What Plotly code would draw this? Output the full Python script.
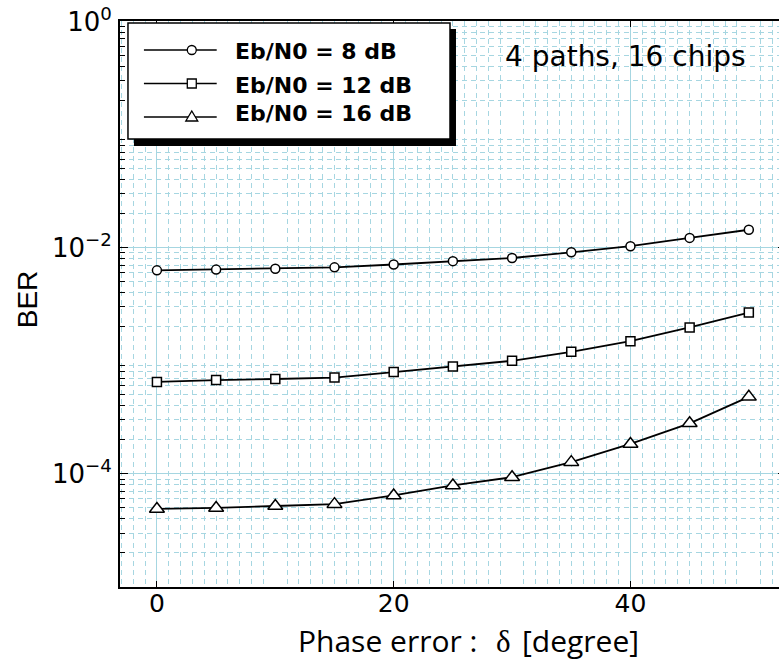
import plotly.graph_objects as go

# ---------------- data ----------------
phase_deg = [0, 5, 10, 15, 20, 25, 30, 35, 40, 45, 50]
ber_8db = [6.3e-3, 6.4e-3, 6.5e-3, 6.7e-3, 7.1e-3, 7.6e-3, 8.1e-3, 9.1e-3, 1.03e-2, 1.22e-2, 1.44e-2]
ber_12db = [6.5e-4, 6.75e-4, 6.9e-4, 7.1e-4, 7.95e-4, 8.9e-4, 1.0e-3, 1.2e-3, 1.49e-3, 1.97e-3, 2.67e-3]
ber_16db = [4.9e-5, 5.0e-5, 5.2e-5, 5.4e-5, 6.45e-5, 7.9e-5, 9.35e-5, 1.27e-4, 1.84e-4, 2.8e-4, 4.8e-4]
series_names = ["Eb/N0 = 8 dB", "Eb/N0 = 12 dB", "Eb/N0 = 16 dB"]
x_label_vals = [0, 20, 40]
x_label_text = ["0", "20", "40"]
x_grid_vals = [10, 30, 50]
x_mid_ticks = [5, 15, 25, 35, 45]
y_label_vals = [1e-4, 1e-2, 1]
y_label_text = ["10<sup>\u22124</sup>", "10<sup>\u22122</sup>", "10<sup>0</sup>"]
y_grid_vals = [1e-5, 1e-3, 1e-1]
annotation_text = "4 paths, 16 chips"
x_title_parts = ["Phase error :", "\u03b4", "[degree]"]
y_title = "BER"

# ---------------- geometry (pixels) ----------------
W, H = 790, 661                  # slightly wider than the window: right edge is cut off
L, R, T, B = 120, 788, 21, 587   # plot area in pixels
def px(x):
    return (x - L) / (R - L)
def py(y):
    return (B - y) / (B - T)

GRID = "#a6d6e1"
symbols = ["circle", "square", "triangle-up"]
msizes = [9, 9, 13]
XR = [-3.12, 53.14]
YR = [-5, 0.004]

fig = go.Figure()
for name, ys, sym, ms in zip(series_names, [ber_8db, ber_12db, ber_16db], symbols, msizes):
    fig.add_trace(go.Scatter(
        x=phase_deg, y=ys, mode="lines+markers", name=name,
        line=dict(color="black", width=1.8),
        marker=dict(symbol=sym, size=ms, color="white", line=dict(color="black", width=1.5)),
        showlegend=False,
    ))

minor_x = [v for v in range(-3, 54) if v % 10 != 0]
minor_y = [d * 10 ** k for k in range(-5, 0) for d in range(2, 10)]

axis_common = dict(ticks="inside", tickwidth=1.2, tickcolor="black",
                   showline=True, linecolor="black", linewidth=1.8, mirror="ticks",
                   zeroline=False)

fig.update_layout(
    width=W, height=H, autosize=False,
    margin=dict(l=L, r=W - R, t=T, b=H - B, pad=0),
    paper_bgcolor="white", plot_bgcolor="white",
    showlegend=False,
    xaxis=dict(
        range=XR, tickmode="array", tickvals=x_label_vals, ticktext=x_label_text,
        ticklen=6, showgrid=True, gridcolor=GRID, gridwidth=1,
        tickfont=dict(family="DejaVu Sans", size=25, color="black"),
        ticklabelstandoff=-7,
        minor=dict(tickmode="array", tickvals=minor_x, ticks="", showgrid=True,
                   gridcolor=GRID, griddash="5px,4px", gridwidth=1),
        **axis_common,
    ),
    xaxis2=dict(
        overlaying="x", anchor="y", range=XR, tickmode="array", tickvals=x_grid_vals,
        ticklen=6, showticklabels=False, showgrid=True, gridcolor=GRID, gridwidth=1,
        minor=dict(tickmode="array", tickvals=x_mid_ticks, ticks="inside", ticklen=3,
                   tickcolor="black", showgrid=False),
        **axis_common,
    ),
    yaxis=dict(
        type="log", range=YR, tickmode="array", tickvals=y_label_vals, ticktext=y_label_text,
        ticklen=8, showgrid=True, gridcolor=GRID, gridwidth=1,
        tickfont=dict(family="DejaVu Sans", size=26, color="black"),
        ticklabelstandoff=1,
        minor=dict(tickmode="array", tickvals=minor_y, ticks="inside", ticklen=5,
                   tickcolor="black", showgrid=True, gridcolor=GRID,
                   griddash="5px,4px", gridwidth=1),
        **axis_common,
    ),
    yaxis2=dict(
        overlaying="y", anchor="x", type="log", range=YR, tickmode="array",
        tickvals=y_grid_vals, ticklen=8, showticklabels=False,
        showgrid=True, gridcolor=GRID, gridwidth=1,
        **axis_common,
    ),
)

# ---------------- hand-drawn legend box ----------------
shapes = []
shapes.append(dict(type="rect", xref="paper", yref="paper", layer="above",
                   x0=px(134), x1=px(457), y0=py(29), y1=py(146),
                   fillcolor="black", line=dict(width=0)))
shapes.append(dict(type="rect", xref="paper", yref="paper", layer="above",
                   x0=px(128), x1=px(451), y0=py(23), y1=py(139),
                   fillcolor="white", line=dict(color="black", width=1.5)))
row_y = [50, 83.5, 117]
text_y = [52, 85, 114]
mx = 192
for yy in row_y:
    shapes.append(dict(type="line", xref="paper", yref="paper", layer="above",
                       x0=px(144), x1=px(217), y0=py(yy), y1=py(yy),
                       line=dict(color="black", width=1.5)))
r = 4.5
shapes.append(dict(type="circle", xref="paper", yref="paper", layer="above",
                   x0=px(mx - r), x1=px(mx + r), y0=py(row_y[0] - r), y1=py(row_y[0] + r),
                   fillcolor="white", line=dict(color="black", width=1.3)))
shapes.append(dict(type="rect", xref="paper", yref="paper", layer="above",
                   x0=px(mx - r), x1=px(mx + r), y0=py(row_y[1] - r), y1=py(row_y[1] + r),
                   fillcolor="white", line=dict(color="black", width=1.3)))
ty = row_y[2]
tri = "M {:.5f},{:.5f} L {:.5f},{:.5f} L {:.5f},{:.5f} Z".format(
    px(mx - 6), py(ty + 4), px(mx + 6), py(ty + 4), px(mx), py(ty - 6))
shapes.append(dict(type="path", xref="paper", yref="paper", layer="above", path=tri,
                   fillcolor="white", line=dict(color="black", width=1.3)))
fig.update_layout(shapes=shapes)

annotations = []
for name, yy in zip(series_names, text_y):
    annotations.append(dict(xref="paper", yref="paper", x=px(233), y=py(yy),
                            xanchor="left", yanchor="middle", showarrow=False,
                            text=name,
                            font=dict(family="DejaVu Sans", size=22, color="black", weight="bold")))
annotations.append(dict(xref="paper", yref="paper", x=px(504), y=py(56),
                        xanchor="left", yanchor="middle", showarrow=False,
                        text=annotation_text,
                        font=dict(family="DejaVu Sans", size=28, color="black")))
# x-axis title in three pieces
annotations.append(dict(xref="paper", yref="paper", x=px(297), y=py(640),
                        xanchor="left", yanchor="middle", showarrow=False,
                        text=x_title_parts[0],
                        font=dict(family="Open Sans", size=30, color="black")))
annotations.append(dict(xref="paper", yref="paper", x=px(505), y=py(641),
                        xanchor="center", yanchor="middle", showarrow=False,
                        text=x_title_parts[1],
                        font=dict(family="Liberation Serif", size=31, color="black")))
annotations.append(dict(xref="paper", yref="paper", x=px(521), y=py(640),
                        xanchor="left", yanchor="middle", showarrow=False,
                        text=x_title_parts[2],
                        font=dict(family="Open Sans", size=30, color="black")))
annotations.append(dict(xref="paper", yref="paper", x=px(27), y=py(299),
                        xanchor="center", yanchor="middle", showarrow=False, textangle=-90,
                        text=y_title,
                        font=dict(family="Liberation Sans", size=28, color="black")))
fig.update_layout(annotations=annotations)

# remove the default page margin so the figure sits at the window's top-left corner
fig.write_html("out.html",
               config={"displayModeBar": False},
               post_script="document.body.style.margin='0px';document.body.style.overflow='hidden';")
